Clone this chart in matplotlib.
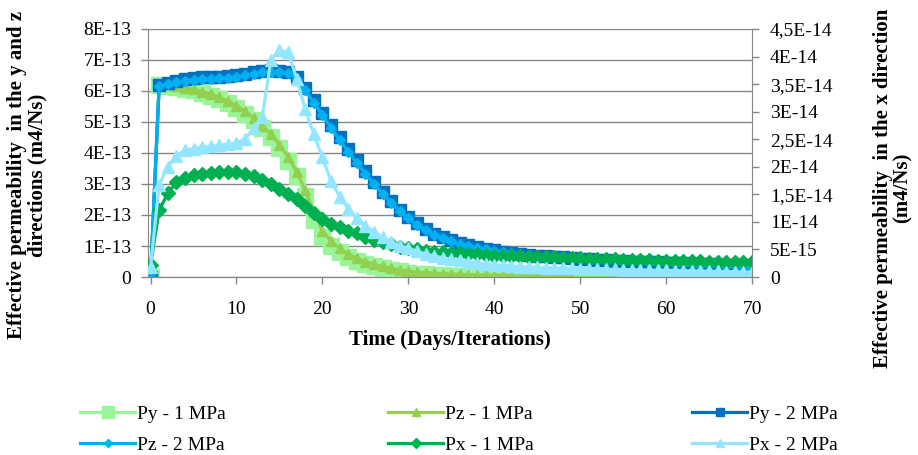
import numpy as np
import matplotlib
matplotlib.use('Agg')
import matplotlib.pyplot as plt
from matplotlib.ticker import FixedLocator, FixedFormatter

plt.rcParams['font.family'] = ['Liberation Serif', 'DejaVu Serif']

days = list(range(71))

# y and z directions, units of 1E-13 m4/Ns (left axis)
py_1 = [0, 6.20, 6.17, 6.13, 6.08, 6.02, 5.94, 5.85, 5.74, 5.60, 5.45,
        5.27, 5.05, 4.80, 4.50, 4.15, 3.75, 3.25, 2.60, 1.85, 1.30,
        1.00, 0.80, 0.65, 0.53, 0.43, 0.35, 0.28, 0.23, 0.18, 0.14,
        0.11, 0.09, 0.07, 0.055, 0.045, 0.035, 0.028, 0.022, 0.018, 0.014,
        0.012, 0.010, 0.009, 0.008, 0.007, 0.006, 0.006, 0.005, 0.005, 0.004,
        0.004, 0.004, 0.003, 0.003, 0.003, 0.003, 0.002, 0.002, 0.002, 0.002,
        0.002, 0.002, 0.002, 0.001, 0.001, 0.001, 0.001, 0.001, 0.001, 0.001]
pz_1 = [0, 6.20, 6.18, 6.15, 6.10, 6.05, 5.98, 5.90, 5.80, 5.67, 5.52,
        5.35, 5.13, 4.88, 4.60, 4.27, 3.88, 3.40, 2.80, 2.10, 1.50,
        1.15, 0.92, 0.75, 0.61, 0.50, 0.41, 0.34, 0.28, 0.23, 0.19,
        0.16, 0.14, 0.12, 0.105, 0.095, 0.085, 0.078, 0.072, 0.067, 0.063,
        0.060, 0.058, 0.056, 0.054, 0.052, 0.050, 0.049, 0.048, 0.047, 0.046,
        0.045, 0.044, 0.043, 0.042, 0.041, 0.040, 0.039, 0.038, 0.037, 0.036,
        0.035, 0.034, 0.034, 0.033, 0.033, 0.032, 0.032, 0.031, 0.031, 0.030]
py_2 = [0, 6.20, 6.27, 6.33, 6.38, 6.42, 6.44, 6.45, 6.46, 6.48, 6.51,
        6.55, 6.60, 6.65, 6.67, 6.66, 6.62, 6.45, 6.10, 5.70, 5.30,
        4.90, 4.50, 4.12, 3.76, 3.41, 3.06, 2.74, 2.44, 2.17, 1.93,
        1.73, 1.55, 1.40, 1.28, 1.18, 1.09, 1.02, 0.96, 0.91, 0.86,
        0.82, 0.78, 0.75, 0.72, 0.69, 0.67, 0.65, 0.63, 0.61, 0.59,
        0.57, 0.56, 0.54, 0.53, 0.51, 0.50, 0.49, 0.48, 0.47, 0.46,
        0.45, 0.44, 0.43, 0.42, 0.41, 0.40, 0.39, 0.38, 0.37, 0.30]
pz_2 = [0, 6.15, 6.22, 6.28, 6.33, 6.37, 6.39, 6.40, 6.41, 6.43, 6.46,
        6.50, 6.55, 6.60, 6.62, 6.62, 6.58, 6.40, 6.02, 5.62, 5.22,
        4.82, 4.42, 4.04, 3.68, 3.33, 2.99, 2.68, 2.39, 2.12, 1.89,
        1.69, 1.52, 1.37, 1.25, 1.15, 1.07, 1.00, 0.94, 0.89, 0.84,
        0.80, 0.76, 0.73, 0.70, 0.67, 0.65, 0.63, 0.61, 0.59, 0.57,
        0.55, 0.54, 0.52, 0.51, 0.49, 0.48, 0.47, 0.46, 0.45, 0.44,
        0.43, 0.42, 0.41, 0.40, 0.39, 0.38, 0.37, 0.36, 0.35, 0.28]

# x direction, units of 1E-14 m4/Ns (right axis)
px_1 = [0.22, 1.21, 1.52, 1.72, 1.80, 1.85, 1.87, 1.89, 1.90, 1.90, 1.90,
        1.87, 1.83, 1.76, 1.68, 1.59, 1.51, 1.41, 1.29, 1.17, 1.06,
        0.97, 0.90, 0.84, 0.79, 0.73, 0.68, 0.63, 0.59, 0.55, 0.52,
        0.50, 0.48, 0.46, 0.45, 0.44, 0.43, 0.42, 0.41, 0.40, 0.39,
        0.385, 0.38, 0.375, 0.37, 0.365, 0.36, 0.355, 0.35, 0.345, 0.34,
        0.335, 0.33, 0.325, 0.32, 0.315, 0.31, 0.305, 0.30, 0.297, 0.294,
        0.291, 0.288, 0.285, 0.282, 0.280, 0.278, 0.276, 0.274, 0.272, 0.270]
px_2 = [0.18, 1.67, 2.00, 2.20, 2.30, 2.33, 2.35, 2.37, 2.39, 2.41, 2.43,
        2.50, 2.70, 2.90, 3.94, 4.11, 4.08, 3.60, 3.04, 2.59, 2.17,
        1.74, 1.46, 1.24, 1.07, 0.93, 0.82, 0.72, 0.64, 0.57, 0.52,
        0.47, 0.42, 0.38, 0.35, 0.32, 0.30, 0.28, 0.26, 0.24, 0.225,
        0.21, 0.20, 0.19, 0.18, 0.175, 0.17, 0.165, 0.16, 0.155, 0.15,
        0.147, 0.144, 0.141, 0.138, 0.135, 0.132, 0.129, 0.126, 0.123, 0.12,
        0.117, 0.114, 0.111, 0.108, 0.105, 0.102, 0.099, 0.096, 0.093, 0.09]

left_ticks = ['0', '1E-13', '2E-13', '3E-13', '4E-13', '5E-13', '6E-13', '7E-13', '8E-13']
right_ticks = ['0', '5E-15', '1E-14', '1,5E-14', '2E-14', '2,5E-14', '3E-14',
               '3,5E-14', '4E-14', '4,5E-14']

grey = '#868686'
fs = 14
lab_fs = 15

fig = plt.figure(figsize=(9.18, 4.55), dpi=100)
ax = fig.add_axes([0.1612, 0.3912, 0.658, 0.5451])
ax2 = ax.twinx()

lw = 2.3
l1, = ax.plot(days, np.array(py_1) * 1e-13, color='#9AF59A', lw=lw, marker='s', ms=11,
              label='Py - 1 MPa')
l2, = ax.plot(days, np.array(pz_1) * 1e-13, color='#92D050', lw=lw, marker='^', ms=7,
              label='Pz - 1 MPa')
l3, = ax.plot(days, np.array(py_2) * 1e-13, color='#0070C0', lw=lw, marker='s', ms=8,
              label='Py - 2 MPa')
l4, = ax.plot(days, np.array(pz_2) * 1e-13, color='#00B0F0', lw=lw, marker='D', ms=5.5,
              label='Pz - 2 MPa')
l5, = ax2.plot(days, np.array(px_1) * 1e-14, color='#00B050', lw=lw, marker='D', ms=7,
               label='Px - 1 MPa')
l6, = ax2.plot(days, np.array(px_2) * 1e-14, color='#93E6FF', lw=lw, marker='^', ms=8,
               label='Px - 2 MPa')

ax.set_xlim(-0.3, 70)
ax.set_ylim(0, 8e-13)
ax2.set_ylim(0, 4.5e-14)

ax.yaxis.set_major_locator(FixedLocator([i * 1e-13 for i in range(9)]))
ax.yaxis.set_major_formatter(FixedFormatter(left_ticks))
ax2.yaxis.set_major_locator(FixedLocator([i * 5e-15 for i in range(10)]))
ax2.yaxis.set_major_formatter(FixedFormatter(right_ticks))
ax.set_xticks(range(0, 71, 10))

ax.grid(axis='y', color=grey, lw=1)
ax.set_axisbelow(True)
for a in (ax, ax2):
    a.spines['top'].set_visible(False)
    for s in ('left', 'right', 'bottom'):
        a.spines[s].set_color(grey)
    a.tick_params(colors=grey, labelcolor='black', labelsize=fs, length=5, width=1)
ax.spines['right'].set_visible(False)
ax2.spines['left'].set_visible(False)
ax.tick_params(axis='y', pad=7)
ax.tick_params(axis='x', pad=12)
ax2.tick_params(axis='y', pad=8)

ax.set_xlabel('Time (Days/Iterations)', fontsize=lab_fs, fontweight='bold', labelpad=9)
fig.text(27 / 918, (455 - 175) / 455,
         'Effective permeability  in the y and z\ndirections (m4/Ns)',
         rotation=90, ha='center', va='center', ma='center',
         fontsize=lab_fs, fontweight='bold', linespacing=1.0)
fig.text(893 / 918, (455 - 188) / 455,
         'Effective permeability  in the x direction\n(m4/Ns)',
         rotation=90, ha='center', va='center', ma='center',
         fontsize=lab_fs, fontweight='bold', linespacing=1.0)

cols = [(l1, l4), (l2, l5), (l3, l6)]
col_x = [80, 388, 692]
for (ha_, hb_), cx in zip(cols, col_x):
    fig.legend([ha_, hb_], [ha_.get_label(), hb_.get_label()],
               loc='upper left', bbox_to_anchor=(cx / 918, (455 - 405) / 455),
               frameon=False, fontsize=fs, handlelength=2.85, handletextpad=0.1,
               borderpad=0, borderaxespad=0, labelspacing=0.72, markerscale=0.75)

fig.savefig('out.png', dpi=100)
